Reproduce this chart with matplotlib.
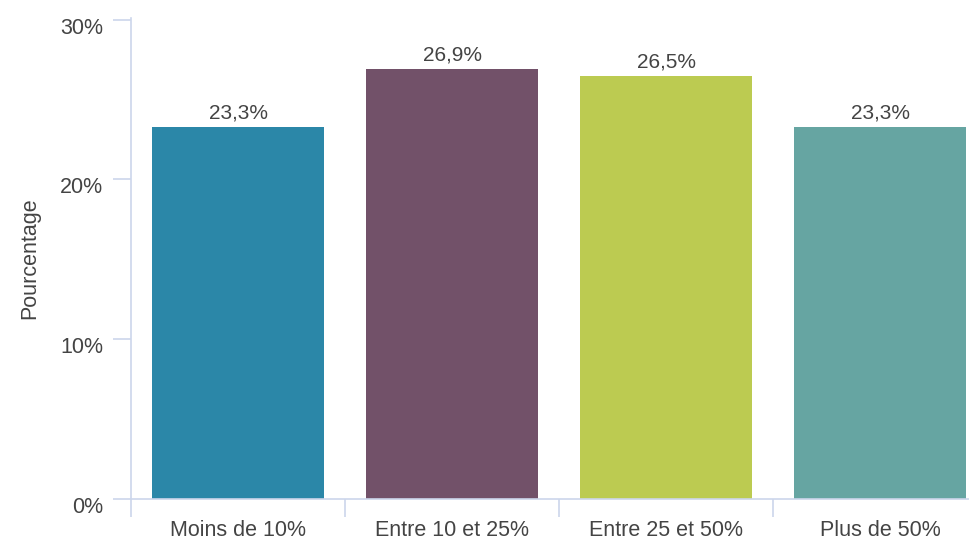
import matplotlib.pyplot as plt
import matplotlib.transforms as mtransforms
import numpy as np

plt.rcParams['font.family'] = ['Liberation Sans', 'DejaVu Sans']

categories = ['Moins de 10%', 'Entre 10 et 25%', 'Entre 25 et 50%', 'Plus de 50%']
values = [23.3, 26.9, 26.5, 23.3]
labels = ['23,3%', '26,9%', '26,5%', '23,3%']
colors = ['#2b87a8', '#725169', '#bccb51', '#66a5a2']
yticks = [0, 10, 20, 30]
ytick_labels = ['0%', '10%', '20%', '30%']

axis_col = '#ccd6eb'
text_col = '#444444'

fig = plt.figure(figsize=(9.69, 5.43), dpi=100)
# the plot runs past the right edge, as in the reference
ax = fig.add_axes([131/969, 44/543, 856/969, 481/543])

x = np.arange(len(categories))
bars = ax.bar(x, values, width=0.8, color=colors)
for b, lab in zip(bars, labels):
    ax.annotate(lab, (b.get_x() + b.get_width()/2, b.get_height()),
                xytext=(0, 3), textcoords='offset points',
                ha='center', va='bottom', fontsize=15, color=text_col)

ax.set_xlim(-0.5, len(categories) - 0.5)
ax.set_ylim(0, 30.1)
ax.set_yticks(yticks)
ax.set_yticklabels(ytick_labels)
ax.set_xticks(x)
ax.set_xticklabels(categories)
ax.set_xticks(np.arange(len(categories) + 1) - 0.5, minor=True)

for s in ['top', 'right']:
    ax.spines[s].set_visible(False)
for s in ['left', 'bottom']:
    ax.spines[s].set_color(axis_col)
    ax.spines[s].set_linewidth(1.2)

ax.tick_params(axis='y', length=13, width=1.2, color=axis_col, pad=7,
               labelsize=15.5, labelcolor=text_col)
ax.tick_params(axis='x', which='major', length=0, pad=15,
               labelsize=15.5, labelcolor=text_col)
ax.tick_params(axis='x', which='minor', length=13, width=1.2, color=axis_col)

# y labels sit a little below their ticks
shift = mtransforms.ScaledTranslation(0, -6/100, fig.dpi_scale_trans)
for t in ax.get_yticklabels():
    t.set_transform(t.get_transform() + shift)

ax.set_ylabel('Pourcentage', fontsize=15.5, color=text_col, labelpad=14)

fig.savefig('out.png', dpi=100)
